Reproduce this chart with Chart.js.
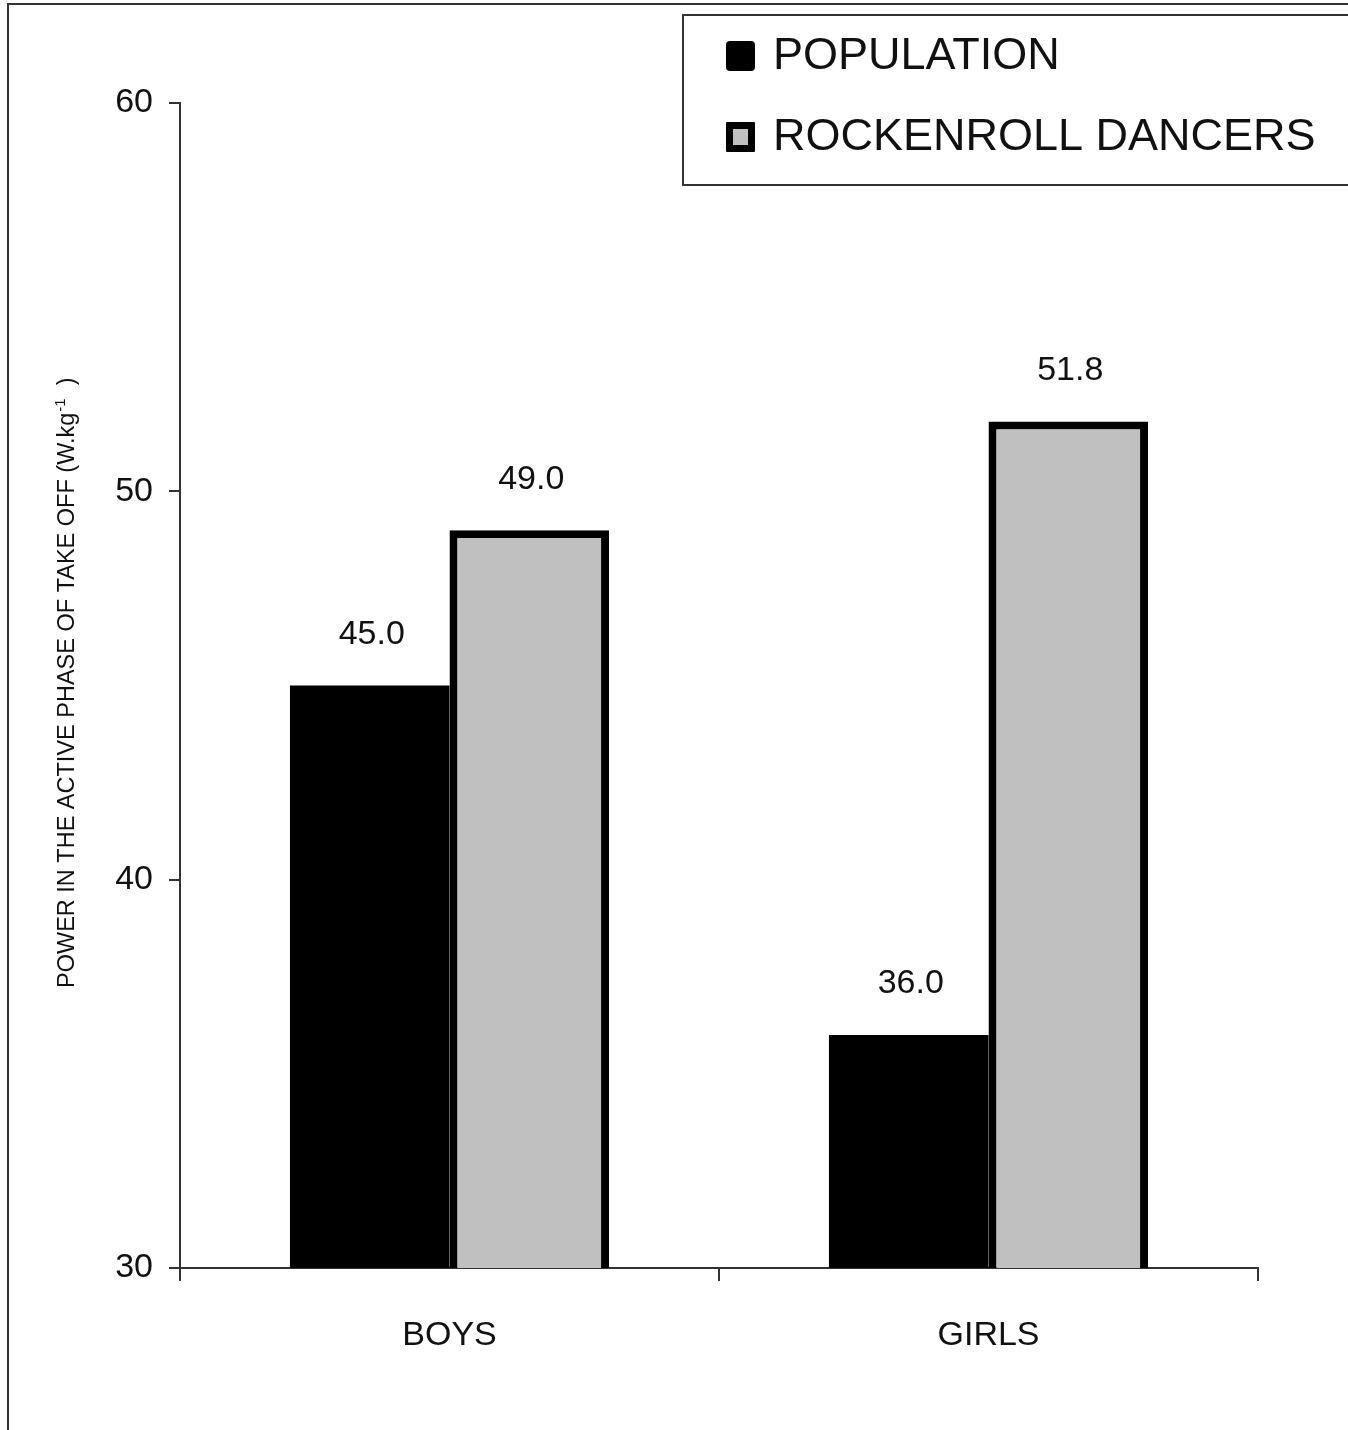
<!DOCTYPE html>
<html lang="en">
<head>
    <meta charset="UTF-8">
    <title>Power in the active phase of take off</title>
    <script src="https://cdn.jsdelivr.net/npm/chart.js"></script>
    <style>
        body { margin: 0; background: #fff; }
        canvas { display: block; }
    </style>
</head>
<body>
    <canvas id="powerChart" width="1348" height="1430"></canvas>

    <script>
        // values
        const categories = ['BOYS', 'GIRLS'];
        const populationValues = [45.0, 36.0];
        const dancerValues = [49.0, 51.8];
        const yTicks = [30, 40, 50, 60];
        const seriesNames = ['POPULATION', 'ROCKENROLL DANCERS'];
        const axisTitle = 'POWER IN THE ACTIVE PHASE OF TAKE OFF (W.kg';

        const FONT = '"Liberation Sans", Arial, sans-serif';
        const LINE = '#333';

        // outer frame + legend box
        const framePlugin = {
            id: 'frame',
            beforeDraw(chart) {
                const c = chart.ctx;
                c.save();
                c.fillStyle = '#fff';
                c.fillRect(0, 0, chart.width, chart.height);
                c.strokeStyle = LINE;
                c.lineWidth = 2;
                c.beginPath();
                c.moveTo(8, chart.height);
                c.lineTo(8, 4);
                c.lineTo(chart.width, 4);
                c.stroke();
                c.restore();
            },
            afterDraw(chart) {
                const c = chart.ctx;
                c.save();
                c.strokeStyle = LINE;
                c.lineWidth = 2;
                c.strokeRect(683, 15, chart.width, 170);

                const ds = chart.data.datasets;
                const rows = [56, 137];
                ds.forEach((d, i) => {
                    const cy = rows[i];
                    c.fillStyle = '#000';
                    c.beginPath();
                    c.roundRect(726, cy - 15, 29, 30, i === 0 ? 4 : 1);
                    c.fill();
                    if (d.borderWidth) {
                        c.fillStyle = d.backgroundColor;
                        c.fillRect(733, cy - 8, 15, 16);
                    }
                    c.fillStyle = '#111';
                    c.font = '45px ' + FONT;
                    c.textAlign = 'left';
                    c.textBaseline = 'middle';
                    c.fillText(d.label, 773, cy + 1);
                });

                // rotated y axis title with superscript
                c.translate(74, 988);
                c.rotate(-Math.PI / 2);
                c.fillStyle = '#111';
                c.textBaseline = 'alphabetic';
                c.font = '23.5px ' + FONT;
                c.fillText(axisTitle, 0, 0);
                let x = c.measureText(axisTitle).width;
                c.font = '15px ' + FONT;
                c.fillText('-1', x + 1, -9);
                x += c.measureText('-1').width + 1;
                c.font = '23.5px ' + FONT;
                c.fillText('  )', x, 0);
                c.restore();
            }
        };

        // numbers above the bars
        const valueLabels = {
            id: 'valueLabels',
            afterDatasetsDraw(chart) {
                const c = chart.ctx;
                c.save();
                c.font = '34px ' + FONT;
                c.fillStyle = '#111';
                c.textAlign = 'center';
                c.textBaseline = 'middle';
                chart.data.datasets.forEach((d, i) => {
                    chart.getDatasetMeta(i).data.forEach((bar, j) => {
                        c.fillText(d.data[j].toFixed(1), bar.x + 2, bar.y - 51);
                    });
                });
                c.restore();
            }
        };

        new Chart(document.getElementById('powerChart'), {
            type: 'bar',
            data: {
                labels: categories,
                datasets: [
                    {
                        label: seriesNames[0],
                        data: populationValues,
                        backgroundColor: '#000',
                        borderWidth: 0
                    },
                    {
                        label: seriesNames[1],
                        data: dancerValues,
                        backgroundColor: '#c0c0c0',
                        borderColor: '#000',
                        borderWidth: 8,
                        borderSkipped: false
                    }
                ]
            },
            options: {
                responsive: false,
                animation: false,
                devicePixelRatio: 1,
                categoryPercentage: 0.592,
                barPercentage: 1,
                layout: { padding: { top: 103, right: 90, left: 0, bottom: 0 } },
                plugins: {
                    legend: { display: false },
                    tooltip: { enabled: false }
                },
                scales: {
                    x: {
                        afterFit: (s) => { s.height = 162; },
                        grid: {
                            drawOnChartArea: false,
                            offset: true,
                            tickLength: 13,
                            color: LINE,
                            lineWidth: 2
                        },
                        border: { display: true, color: LINE, width: 2 },
                        ticks: { font: { family: FONT, size: 34 }, color: '#111', padding: 34 }
                    },
                    y: {
                        min: yTicks[0],
                        max: yTicks[yTicks.length - 1],
                        afterFit: (s) => { s.width = 180; },
                        afterBuildTicks: (s) => { s.ticks = yTicks.map(v => ({ value: v })); },
                        grid: {
                            drawOnChartArea: false,
                            tickLength: 11,
                            color: LINE,
                            lineWidth: 2
                        },
                        border: { display: true, color: LINE, width: 2 },
                        ticks: { font: { family: FONT, size: 34 }, color: '#111', padding: 16 }
                    }
                }
            },
            plugins: [framePlugin, valueLabels]
        });
    </script>
</body>
</html>
